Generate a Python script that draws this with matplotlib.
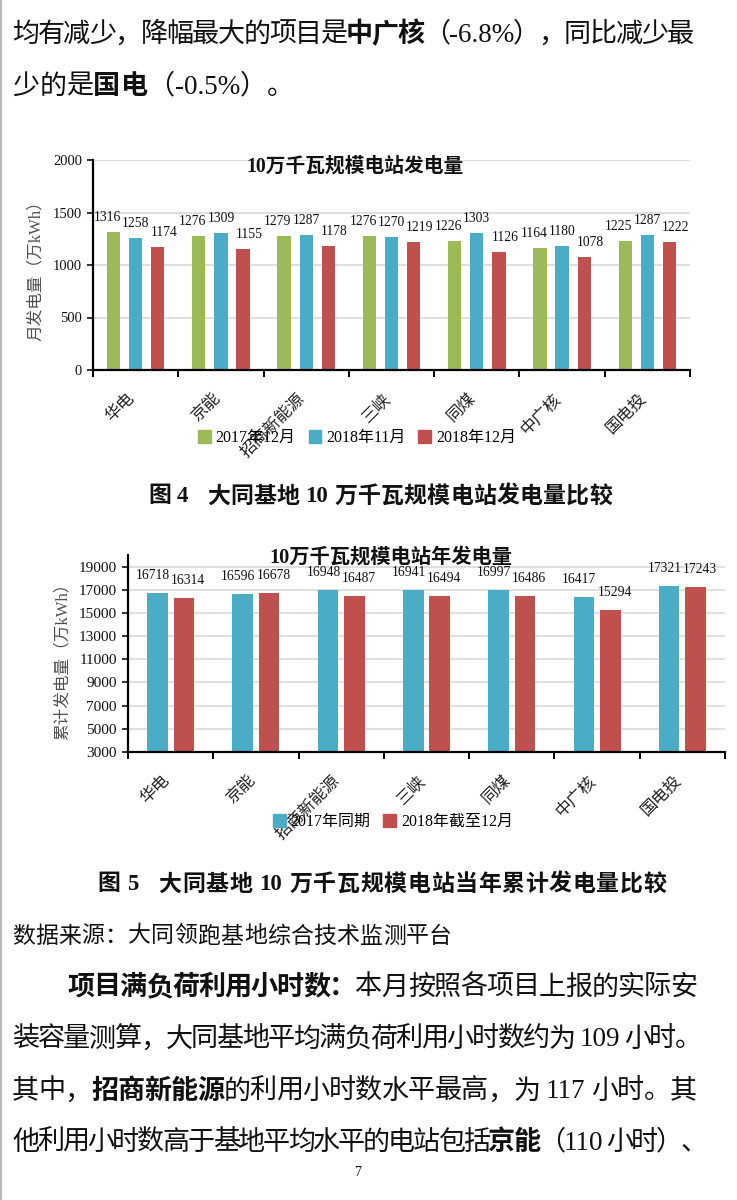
import re
import matplotlib
matplotlib.use('Agg')
import matplotlib.pyplot as plt
from matplotlib.patches import Patch
from matplotlib.transforms import ScaledTranslation

W, H = 737, 1200
FAM = ['Liberation Serif', 'Noto Sans CJK SC']
plt.rcParams['font.family'] = FAM

# chart data
stations = ['华电', '京能', '招商新能源', '三峡', '同煤', '中广核', '国电投']
month_series = ['2017年12月', '2018年11月', '2018年12月']
dec_2017 = [1316, 1276, 1279, 1276, 1226, 1164, 1225]
nov_2018 = [1258, 1309, 1287, 1270, 1303, 1180, 1287]
dec_2018 = [1174, 1155, 1178, 1219, 1126, 1078, 1222]

year_series = ['2017年同期', '2018年截至12月']
ytd_2017 = [16718, 16596, 16948, 16941, 16997, 16417, 17321]
ytd_2018 = [16314, 16678, 16487, 16494, 16486, 15294, 17243]

GREEN, BLUE, RED = '#9BBB59', '#4BACC6', '#C0504D'
GRID = '#D9D9D9'

fig = plt.figure(figsize=(W / 100, H / 100), dpi=100)
fig.patch.set_facecolor('white')
renderer = fig.canvas.get_renderer()


def fx(px):
    return px / W


def fy(py):
    return 1 - py / H


def draw_line(segs, x0, y, size, x1=None):
    """Write a line of mixed bold/normal text, optionally justified to x1."""
    toks = []
    for s, b in segs:
        for m in re.finditer(r'[!-~]+| |.', s):
            toks.append((m.group(), b))
    arts, widths = [], []
    for t, b in toks:
        if t == ' ':
            arts.append(None)
            widths.append(0.25 * size * 100 / 72)
            continue
        a = fig.text(0, fy(y), t, fontsize=size, color='#111111',
                     fontweight='bold' if b else 'normal', va='center', ha='left')
        arts.append(a)
        widths.append(a.get_window_extent(renderer).width)
    gap = 0
    if x1 is not None and len(toks) > 1:
        gap = (x1 - x0 - sum(widths)) / (len(toks) - 1)
    x = x0
    for a, w in zip(arts, widths):
        if a is not None:
            a.set_x(fx(x))
        x += w + gap


def grouped_bars(ax, series, colors, offs, width, lift, size):
    """Bars plus value labels; labels in a group are pushed apart sideways."""
    n = len(series[0])
    groups = [[] for _ in range(n)]
    for vals, col, off in zip(series, colors, offs):
        xs = [i + off for i in range(n)]
        ax.bar(xs, vals, width=width, color=col, zorder=2)
        for i, (x, v) in enumerate(zip(xs, vals)):
            a = ax.annotate(str(v), (x, v), xytext=(0, lift), textcoords='offset pixels',
                            ha='center', va='bottom', fontsize=size, color='#111111')
            groups[i].append(a)
    # spread overlapping labels symmetrically around their original centre
    step = (ax.transData.transform((1, 0))[0] - ax.transData.transform((0, 0))[0])
    for labs in groups:
        ws = [a.get_window_extent(renderer).width for a in labs]
        cs = [o * step for o in offs]
        new = [cs[0]]
        for k in range(1, len(labs)):
            need = (ws[k - 1] + ws[k]) / 2 + 1
            new.append(new[-1] + max(cs[k] - cs[k - 1], need))
        shift = sum(cs) / len(cs) - sum(new) / len(new)
        for a, c, nc in zip(labs, cs, new):
            a.xyann = (nc + shift - c, lift)


def style_axes(ax, n):
    ax.set_xlim(-0.5, n - 0.5)
    for s in ['top', 'right']:
        ax.spines[s].set_visible(False)
    ax.spines['left'].set_linewidth(1.6)
    ax.spines['bottom'].set_linewidth(1.6)
    ax.yaxis.grid(True, color=GRID, lw=1.2)
    ax.set_axisbelow(True)
    ax.set_xticks(range(n))
    ax.set_xticklabels(stations, rotation=45, ha='right', va='center',
                       rotation_mode='anchor', fontsize=12, color='#222222')
    ax.set_xticks([i - 0.5 for i in range(n + 1)], minor=True)
    ax.tick_params(axis='x', which='major', length=0, pad=11)
    ax.tick_params(axis='x', which='minor', length=5, width=1.4, direction='out')
    ax.tick_params(axis='y', length=4, width=1.2, direction='out', pad=4,
                   colors='#111111')
    shift = ScaledTranslation(-3 / 100, -11 / 100, fig.dpi_scale_trans)
    for lab in ax.get_xticklabels():
        lab.set_transform(lab.get_transform() + shift)


# ---- page text at top
draw_line([('均有减少，降幅最大的项目是', False), ('中广核', True),
           ('（-6.8%），同比减少最', False)], 12, 35, 19.5, 694)
draw_line([('少的是', False), ('国电', True), ('（-0.5%）。', False)], 12, 87, 19.5)

# ---- chart 1: monthly generation
n = len(stations)
ax1 = fig.add_axes([fx(93), fy(370), fx(690) - fx(93), (370 - 160) / H])
ax1.set_ylim(0, 2000)
style_axes(ax1, n)
grouped_bars(ax1, [dec_2017, nov_2018, dec_2018], [GREEN, BLUE, RED],
             [-0.26, 0.0, 0.26], 0.155, 8, 9.8)
ax1.set_yticks([0, 500, 1000, 1500, 2000])
ax1.tick_params(axis='y', labelsize=10.5)
fig.text(fx(355), fy(167), '10万千瓦规模电站发电量', fontsize=14.2,
         fontweight='bold', ha='center', va='center', color='#111111')
fig.text(fx(36), fy(267), '月发电量（万kWh）', fontsize=12, rotation=90,
         ha='center', va='center', color='#505050')
fig.legend([Patch(color=c) for c in [GREEN, BLUE, RED]], month_series,
           loc='center', bbox_to_anchor=(fx(357), fy(438)), ncol=3, frameon=False,
           fontsize=11.5, handlelength=0.8, handleheight=0.8, handletextpad=0.3,
           columnspacing=0.8, borderpad=0)
draw_line([('图 4', True), (' ', False), (' ', False), (' ', False),
           ('大同基地 10 万千瓦规模电站发电量比较', True)], 148, 497, 16.5, 612)

# ---- chart 2: cumulative generation
ax2 = fig.add_axes([fx(128), fy(752), fx(725) - fx(128), (752 - 555) / H])
ax2.set_ylim(3000, 20000)
style_axes(ax2, n)
grouped_bars(ax2, [ytd_2017, ytd_2018], [BLUE, RED], [-0.155, 0.155], 0.24, 11, 9.8)
ax2.set_yticks(list(range(3000, 20000, 2000)))
ax2.tick_params(axis='y', labelsize=11)
fig.text(fx(391), fy(558), '10万千瓦规模电站年发电量', fontsize=14.6,
         fontweight='bold', ha='center', va='center', color='#111111')
fig.text(fx(63), fy(657), '累计发电量（万kWh）', fontsize=12, rotation=90,
         ha='center', va='center', color='#505050')
fig.legend([Patch(color=c) for c in [BLUE, RED]], year_series,
           loc='center', bbox_to_anchor=(fx(393), fy(822)), ncol=2, frameon=False,
           fontsize=11.5, handlelength=0.8, handleheight=0.8, handletextpad=0.3,
           columnspacing=0.8, borderpad=0)
draw_line([('图 5', True), (' ', False), (' ', False), (' ', False),
           ('大同基地 10 万千瓦规模电站当年累计发电量比较', True)], 97, 885, 16.5, 666)

# ---- page text at bottom
draw_line([('数据来源：大同领跑基地综合技术监测平台', False)], 12, 937, 16.5, 452)
draw_line([('项目满负荷利用小时数：', True), ('本月按照各项目上报的实际安', False)],
          67, 988, 19.5, 697)
draw_line([('装容量测算，大同基地平均满负荷利用小时数约为 109 小时。', False)],
          12, 1040, 19.5, 702)
draw_line([('其中，', False), ('招商新能源', True), ('的利用小时数水平最高，为 117 小时。其', False)],
          12, 1092, 19.5, 697)
draw_line([('他利用小时数高于基地平均水平的电站包括', False), ('京能', True), ('（110 小时）、', False)],
          12, 1143, 19.5, 708)
fig.text(fx(358), fy(1172), '7', fontsize=10, ha='center', va='center', color='#111111')

# thin page edge on the left
fig.add_artist(plt.Line2D([fx(1), fx(1)], [0, 1], color='#BBBBBB', lw=1.5))

fig.savefig('out.png', dpi=100)
